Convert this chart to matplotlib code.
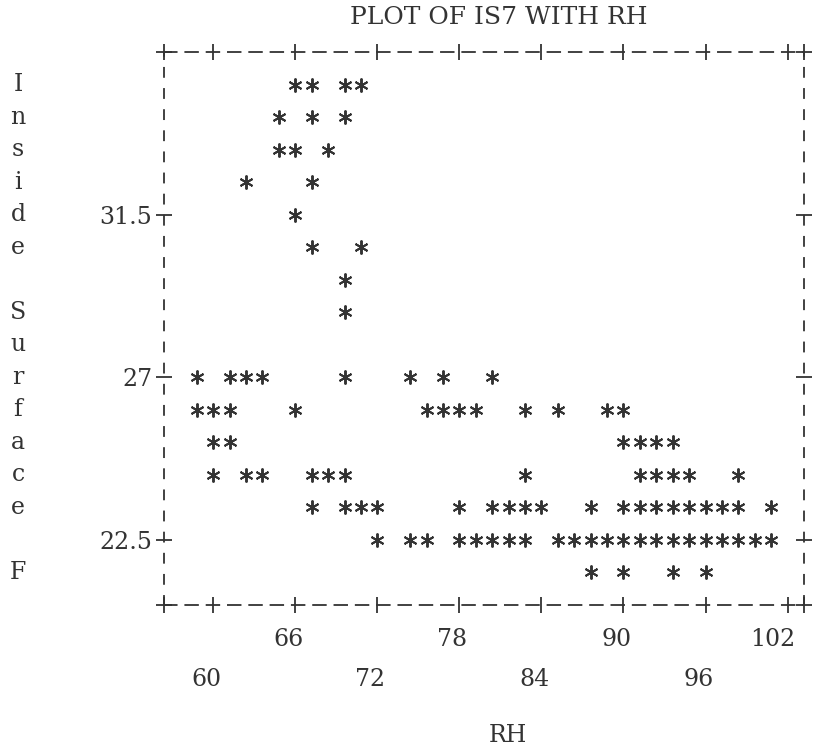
import matplotlib.pyplot as plt
from matplotlib import transforms

# one entry per printed '*': RH (x) and inside surface temperature IS7 (y)
rh = [
    66.0, 67.2, 69.6, 70.8,                                      # 35.1
    64.8, 67.2, 69.6,                                            # 34.2
    64.8, 66.0, 68.4,                                            # 33.3
    62.4, 67.2,                                                  # 32.4
    66.0,                                                        # 31.5
    67.2, 70.8,                                                  # 30.6
    69.6,                                                        # 29.7
    69.6,                                                        # 28.8
    58.8, 61.2, 62.4, 63.6, 69.6, 74.4, 76.8, 80.4,              # 27.0
    58.8, 60.0, 61.2, 66.0, 75.6, 76.8, 78.0, 79.2, 82.8, 85.2,
    88.8, 90.0,                                                  # 26.1
    60.0, 61.2, 90.0, 91.2, 92.4, 93.6,                          # 25.2
    60.0, 62.4, 63.6, 67.2, 68.4, 69.6, 82.8, 91.2, 92.4, 93.6,
    94.8, 98.4,                                                  # 24.3
    67.2, 69.6, 70.8, 72.0, 78.0, 80.4, 81.6, 82.8, 84.0, 87.6,
    90.0, 91.2, 92.4, 93.6, 94.8, 96.0, 97.2, 98.4, 100.8,       # 23.4
    72.0, 74.4, 75.6, 78.0, 79.2, 80.4, 81.6, 82.8, 85.2, 86.4,
    87.6, 88.8, 90.0, 91.2, 92.4, 93.6, 94.8, 96.0, 97.2, 98.4,
    99.6, 100.8,                                                 # 22.5
    87.6, 90.0, 93.6, 96.0,                                      # 21.6
]
is7 = (
    [35.1] * 4 + [34.2] * 3 + [33.3] * 3 + [32.4] * 2 + [31.5] * 1
    + [30.6] * 2 + [29.7] * 1 + [28.8] * 1 + [27.0] * 8 + [26.1] * 12
    + [25.2] * 6 + [24.3] * 12 + [23.4] * 19 + [22.5] * 22 + [21.6] * 4
)

x_ticks = [60, 66, 72, 78, 84, 90, 96, 102]
y_ticks = [22.5, 27, 31.5]
y_tick_labels = ['22.5', '27', '31.5']

title = 'PLOT OF IS7 WITH RH'
x_title = 'RH'
y_title = 'Inside Surface F'

INK = '#333333'
FONT = 'DejaVu Serif'
FS = 17

W, H = 813, 747
fig = plt.figure(figsize=(W / 100, H / 100), dpi=100)
fig.patch.set_facecolor('white')

# plot frame in pixels: left 164, right 804, top 52, bottom 605
ax = fig.add_axes([164 / W, 1 - 605 / H, 640 / W, 553 / H])
ax.set_xlim(56.4, 103.2)
ax.set_ylim(20.7, 36.0)

ax.plot(rh, is7, linestyle='none', marker=(6, 2, 0), markersize=10,
        markeredgewidth=1.4, color=INK)

# dashed line-printer frame
for side in ['top', 'bottom', 'left', 'right']:
    sp = ax.spines[side]
    sp.set_color(INK)
    sp.set_linewidth(1.3)
    if side in ('top', 'bottom'):
        sp.set_linestyle((0, (7, 4.8)))
    else:
        sp.set_linestyle((0, (5, 6.7)))

ax.set_xticks(x_ticks)
ax.set_xticklabels([])
ax.set_yticks(y_ticks, y_tick_labels)
# '+' at the corners too
ax.set_xticks([56.4, 103.2], minor=True)
ax.set_yticks([20.7, 36.0], minor=True)
ax.tick_params(which='both', direction='inout', length=11, width=1.3,
               color=INK, top=True, right=True)
ax.tick_params(axis='y', labelsize=FS, labelcolor=INK, pad=3)
for lab in ax.get_yticklabels():
    lab.set_fontfamily(FONT)

# x tick labels staggered on two printer lines
shift = transforms.ScaledTranslation(8 / 100, 0, fig.dpi_scale_trans)
xtrans = transforms.blended_transform_factory(ax.transData, fig.transFigure) + shift
for i, v in enumerate(x_ticks):
    ypix = 640 if i % 2 else 680
    ax.text(v, 1 - ypix / H, str(v), transform=xtrans, ha='right', va='center',
            fontsize=FS, family=FONT, color=INK, clip_on=False)

# axis titles
fig.text(508 / W, 1 - 736 / H, x_title, ha='center', va='center',
         fontsize=FS, family=FONT, color=INK)
fig.text(499 / W, 1 - 17 / H, title, ha='center', va='center',
         fontsize=FS + 1, family=FONT, color=INK)

# vertical label, one letter per printer row
ytrans = transforms.blended_transform_factory(fig.transFigure, ax.transData)
for i, ch in enumerate(y_title):
    if ch != ' ':
        ax.text(18 / W, 35.1 - 0.9 * i, ch, transform=ytrans, ha='center',
                va='center', fontsize=FS, family=FONT, color=INK, clip_on=False)

fig.savefig('out.png', dpi=100)
